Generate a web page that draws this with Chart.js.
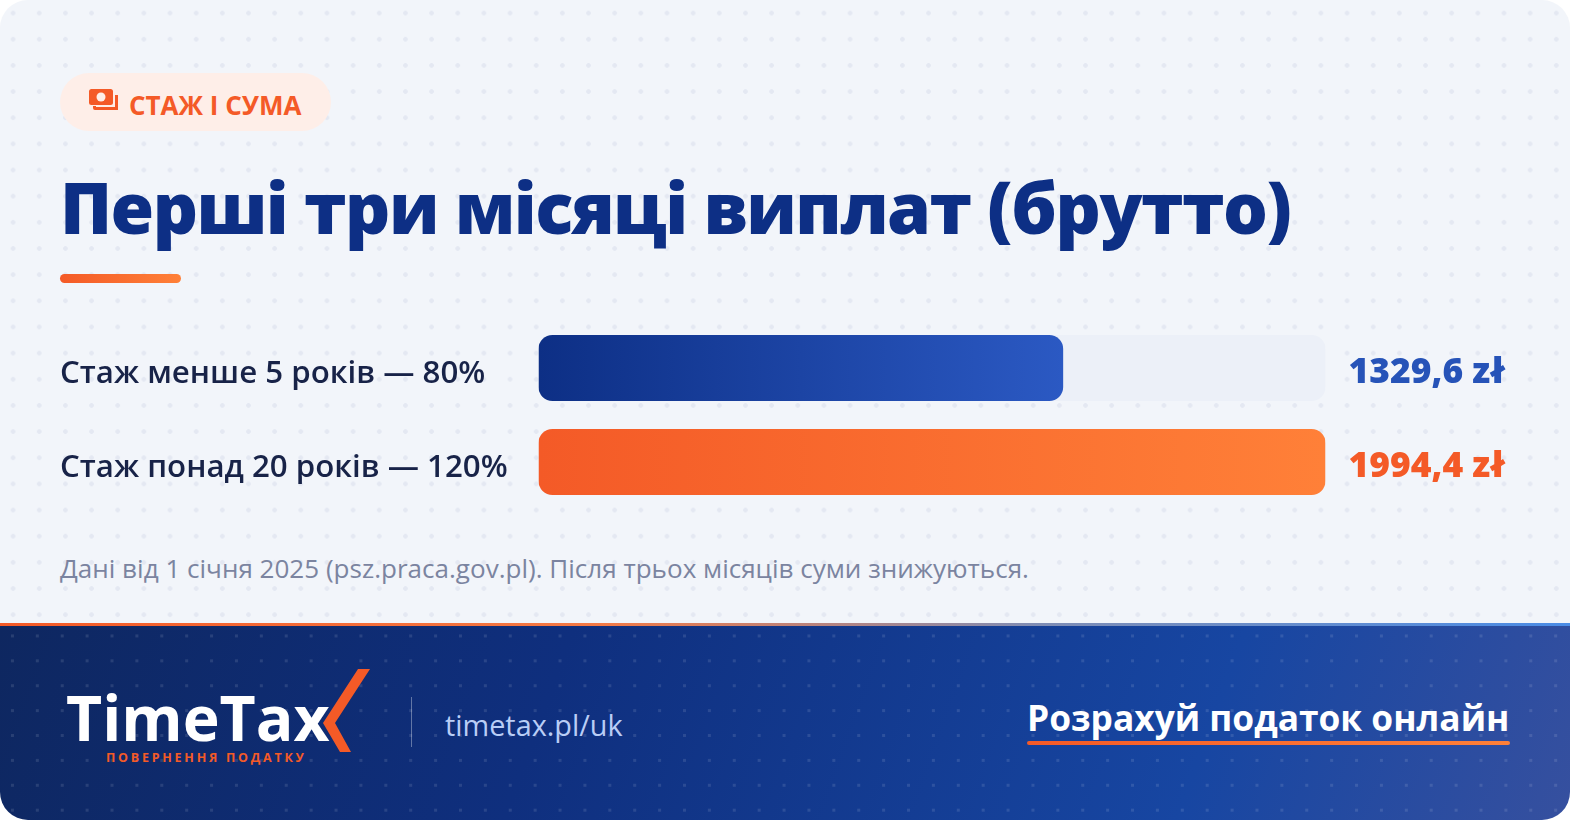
<!DOCTYPE html>
<html lang="uk">
<head>
<meta charset="utf-8">
<title>Перші три місяці виплат (брутто)</title>
<script src="https://cdn.jsdelivr.net/npm/chart.js@4/dist/chart.umd.min.js"></script>
<style>
html, body { margin: 0; padding: 0; background: #fff; }
body { width: 1570px; height: 820px; overflow: hidden; font-family: "Open Sans", sans-serif; }
#card { position: absolute; left: 0; top: 0; width: 1570px; height: 820px; border-radius: 28px; overflow: hidden;
    background-color: #f2f5fa;
    background-image: radial-gradient(circle at center, #e4e8f2 0, #e4e8f2 2px, transparent 2.6px);
    background-size: 26.17px 26.17px; }
#footer { position: absolute; left: 0; top: 626px; width: 1570px; height: 194px;
    background: linear-gradient(110deg, #0e2760 0%, #0f2f7e 35%, #1746a2 76%, #36509f 100%); }
#footerDots { position: absolute; inset: 0;
    background-image: radial-gradient(circle at center, rgba(255,255,255,.11) 0, rgba(255,255,255,.11) 1.5px, transparent 2px);
    background-size: 24.9px 24.9px; background-position: 0 -2.5px; }
#strip { position: absolute; left: 0; top: 623px; width: 1570px; height: 3px;
    background: linear-gradient(90deg, #f45a27 0%, #f47a45 38%, #7f8db5 66%, #4a8ce6 100%); }
.t { position: absolute; line-height: 1; white-space: nowrap; }
#badge { position: absolute; left: 60px; top: 73px; width: 271px; height: 58px; border-radius: 29px; background: #feeee8; }
#badgeText { left: 129px; top: 92px; font-size: 26px; font-weight: 700; color: #f45a27; }
#title { left: 60px; top: 172px; font-size: 70.6px; font-weight: 800; letter-spacing: -1.55px; color: #0d2f85; }
#accent { position: absolute; left: 60px; top: 274px; width: 121px; height: 9px; border-radius: 5px;
    background: linear-gradient(90deg, #f45a27, #ff8038); }
#note { left: 60px; top: 555px; font-size: 26.05px; color: #7b84a0; }
#logoText { left: 66px; top: 685.5px; font-size: 62.5px; font-weight: 700; color: #fff; }
#logoSub { left: 106px; top: 752px; font-size: 12.5px; font-weight: 700; color: #f45a27; letter-spacing: 2.75px; }
#divider { position: absolute; left: 411px; top: 697px; width: 1px; height: 50px; background: rgba(255,255,255,.35); }
#url { left: 445px; top: 711px; font-size: 28.8px; font-weight: 500; color: #b9cdf6; }
#cta { left: 1027px; top: 700px; font-size: 35.3px; font-weight: 700; color: #fff; }
#ctaLine { position: absolute; left: 1027px; top: 741px; width: 483px; height: 4px; border-radius: 2px;
    background: linear-gradient(90deg, #f45a27, #ff8038); }
#logoMark, #badgeIcon { position: absolute; left: 0; top: 0; }
#chartBox { position: absolute; left: 0; top: 0; width: 1570px; height: 820px; }
</style>
</head>
<body>
<div id="card">
    <div id="badge"></div>
    <svg id="badgeIcon" width="1570" height="140">
        <path d="M93 106v2a2 2 0 0 0 2 2h23v-3H96v-1z" fill="#f45a27"/>
        <path d="M115 95h3v13h-3z" fill="#f45a27"/>
        <rect x="89" y="89" width="24" height="16" rx="2.5" fill="#f45a27"/>
        <circle cx="101" cy="97" r="4.5" fill="#feeee8"/>
    </svg>
    <span class="t" id="badgeText">СТАЖ І СУМА</span>
    <span class="t" id="title">Перші три місяці виплат (брутто)</span>
    <div id="accent"></div>
    <span class="t" id="note">Дані від 1 січня 2025 (psz.praca.gov.pl). Після трьох місяців суми знижуються.</span>
    <div id="strip"></div>
    <div id="footer"><div id="footerDots"></div></div>
    <span class="t" id="logoText">TimeTax</span>
    <svg id="logoMark" width="1570" height="820">
        <polygon points="358,669 370,669 335,723 351,752 340,752 323,723" fill="#f45a27"/>
    </svg>
    <span class="t" id="logoSub">ПОВЕРНЕННЯ ПОДАТКУ</span>
    <div id="divider"></div>
    <span class="t" id="url">timetax.pl/uk</span>
    <span class="t" id="cta">Розрахуй податок онлайн</span>
    <div id="ctaLine"></div>
    <div id="chartBox"><canvas id="payChart" width="1570" height="820"></canvas></div>
</div>
<script>
const categories = ['Стаж менше 5 років — 80%', 'Стаж понад 20 років — 120%'];
const grossValues = [1329.6, 1994.4];
const trackValues = [1994.4, 1994.4];
const valueLabels = ['1329,6 zł', '1994,4 zł'];
const valueColors = ['#2653b8', '#f45a27'];
const barStops = [['#0d2f85', '#2b59c3'], ['#f45a27', '#ff8038']];

// gradient runs along each bar, so it has to wait for the scales
function barGradient(context) {
    const chart = context.chart;
    const i = context.dataIndex;
    if (!chart.chartArea) return barStops[i][0];
    const x = chart.scales.x;
    const g = chart.ctx.createLinearGradient(x.getPixelForValue(0), 0, x.getPixelForValue(grossValues[i]), 0);
    g.addColorStop(0, barStops[i][0]);
    g.addColorStop(1, barStops[i][1]);
    return g;
}

const valueLabelPlugin = {
    id: 'valueLabels',
    afterDatasetsDraw(chart) {
        const ctx = chart.ctx;
        ctx.save();
        ctx.font = '800 35.4px "Open Sans"';
        ctx.textAlign = 'left';
        ctx.textBaseline = 'middle';
        categories.forEach((name, i) => {
            ctx.fillStyle = valueColors[i];
            ctx.fillText(valueLabels[i], chart.chartArea.right + 23, chart.scales.y.getPixelForValue(i) + 5);
        });
        ctx.restore();
    }
};

new Chart(document.getElementById('payChart').getContext('2d'), {
    type: 'bar',
    data: {
        labels: categories,
        datasets: [
            { data: grossValues, backgroundColor: barGradient, borderRadius: 14, borderSkipped: false, order: 1, grouped: false },
            { data: trackValues, backgroundColor: '#ecf0f8', borderRadius: 14, borderSkipped: false, order: 2, grouped: false }
        ]
    },
    options: {
        indexAxis: 'y',
        responsive: false,
        animation: false,
        barPercentage: 0.702,
        categoryPercentage: 1,
        layout: { padding: { left: 60, right: 244.5, top: 321, bottom: 311 } },
        plugins: { legend: { display: false }, tooltip: { enabled: false } },
        scales: {
            x: { display: false, min: 0, max: 1994.4 },
            y: {
                afterFit(scale) { scale.width = 478.5; },
                grid: { display: false },
                border: { display: false },
                ticks: {
                    crossAlign: 'far',
                    padding: 0,
                    labelOffset: 6,
                    color: '#182348',
                    font: { family: '"Open Sans"', size: 31.25, weight: 600 }
                }
            }
        }
    },
    plugins: [valueLabelPlugin]
});
</script>
</body>
</html>
